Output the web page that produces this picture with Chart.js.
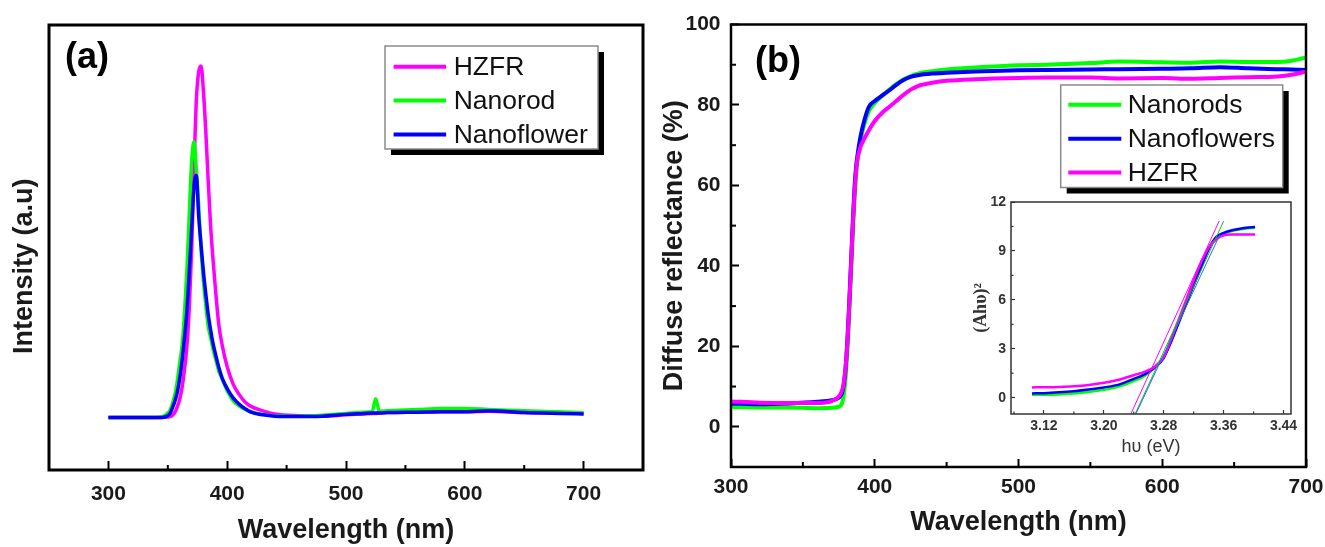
<!DOCTYPE html>
<html><head><meta charset="utf-8">
<script src="https://cdn.jsdelivr.net/npm/chart.js@4.4.1/dist/chart.umd.min.js"></script>
<style>
html,body{margin:0;padding:0;background:#fff;width:1325px;height:547px;overflow:hidden}
canvas{position:absolute}
</style></head><body>
<canvas id="ca" width="660" height="547" style="left:0;top:0;width:660px;height:547px"></canvas>
<canvas id="cb" width="665" height="547" style="left:660px;top:0;width:665px;height:547px"></canvas>
<canvas id="ci" width="360" height="280" style="left:940px;top:190px;width:360px;height:280px"></canvas>
<script>
// ---------- Panel (a): PL spectra ----------
const wavelengthA = [300,320,340,345,350,352,354,356,358,360,362,364,366,368,370,372,374,376,378,380,382,384,386,388,390,393,396,400,405,410,415,420,430,440,460,480,500,515,522,525,528,535,560,580,600,620,650,680,700];
const intensityHZFR = [11.8,11.8,11.8,11.8,11.9,12.0,12.3,13.0,14.2,15.9,18.5,22.5,27.5,36,49,67,83,89.5,90.8,85,76,65,55,47.5,41,32.5,27.8,23.2,19.3,17,15.3,14.3,13.3,12.6,12.2,12.1,12.4,12.6,12.7,12.7,12.8,12.9,13.0,13.1,13.1,13.2,12.9,12.8,12.7];
const intensityNanorod = [11.8,11.8,11.8,11.9,12.8,13.5,15.0,17.0,20,24,28,35,44.5,57,69,73.8,67.5,59.5,49.5,42.5,37,32.3,29.8,27.3,25.2,22.2,20.3,17.8,15.6,14.4,13.6,13.1,12.5,12.2,12.1,12.3,12.7,13.0,13.1,16.0,13.2,13.3,13.6,13.8,13.8,13.6,13.3,13.1,12.8];
const intensityNanoflower = [11.8,11.8,11.8,11.8,12.2,12.8,14.0,15.5,17.5,20.5,24.5,29.5,35.5,44,54,63.5,66.2,57,50.5,44.5,39.5,35,31.5,28.5,26.2,23,20.5,18.3,16.2,14.8,13.8,13.0,12.4,12.1,12.0,12.1,12.5,12.7,12.8,12.8,12.8,12.9,13.0,13.1,13.1,13.3,12.9,12.7,12.6];
const xTicksA = [300,400,500,600,700];
const xMinorA = [350,450,550,650];

// ---------- Panel (b): diffuse reflectance ----------
const wavelengthB = [300,320,340,360,370,375,377,378,379,380,381,382,383,384,385,386,387,388,390,393,396,400,405,410,415,420,425,430,440,450,470,500,520,550,570,600,620,640,660,680,690,700];
const reflNanorods = [5.0,4.8,4.8,4.6,4.7,5.0,5.6,7.0,9.5,13.5,19,26,34,42,50,57,62.5,66.5,71,75.5,78.5,80.5,82.2,83.8,85.2,86.3,87.2,87.8,88.4,88.8,89.3,89.9,90.0,90.4,90.8,90.6,90.5,90.8,90.7,90.7,91.0,91.8];
const reflNanoflowers = [5.8,5.6,5.8,6.2,6.6,7.2,8.2,9.5,12,16,22,29,37,45,53,60,64.5,67.5,72,76.5,79.6,81,82.3,83.6,85,86.2,87,87.4,87.8,88.0,88.3,88.6,88.7,88.8,88.9,89.0,89.1,89.4,89.1,88.9,88.8,88.7];
const reflHZFR = [6.3,6.0,5.9,5.9,6.4,7.5,8.8,10,12.5,16,21,28,36,44,52,58.5,63.5,66.5,69.5,71.8,73.8,76,78,79.5,81,82.5,83.8,84.7,85.5,86,86.4,86.7,86.8,86.8,86.6,86.7,86.5,86.7,86.9,87.1,87.5,88.3];
const xTicksB = [300,400,500,600,700];
const xMinorB = [350,450,550,650];
const yTicksB = [0,20,40,60,80,100];
const yMinorB = [-10,10,30,50,70,90];

// ---------- Inset: Tauc plot ----------
const photonEnergy = [3.104,3.12,3.14,3.16,3.18,3.20,3.22,3.24,3.255,3.268,3.28,3.29,3.30,3.31,3.32,3.33,3.34,3.35,3.36,3.37,3.38,3.39,3.402];
const taucNanorods = [0.18,0.18,0.2,0.26,0.35,0.48,0.68,1.02,1.35,1.85,2.45,3.5,4.65,5.8,6.95,8.1,9.2,9.8,10.05,10.2,10.3,10.38,10.42];
const taucNanoflowers = [0.26,0.28,0.33,0.4,0.5,0.63,0.8,1.15,1.45,1.85,2.45,3.45,4.6,5.75,6.9,8.0,9.1,9.85,10.1,10.25,10.35,10.42,10.46];
const taucHZFR = [0.63,0.64,0.66,0.7,0.78,0.92,1.1,1.38,1.6,1.9,2.5,3.6,4.8,6.0,7.2,8.3,9.2,9.7,9.95,10.0,10.0,10.0,10.0];
const fitEnergyHZFR = [3.236,3.354];
const fitValueHZFR = [-1,10.83];
const fitEnergyNanorods = [3.2418,3.36];
const fitValueNanorods = [-1,10.83];
const fitEnergyNanoflowers = [3.2428,3.355];
const fitValueNanoflowers = [-1,10.0];
const xTicksInset = [3.12,3.20,3.28,3.36,3.44];
const xMinorInset = [3.08,3.16,3.24,3.32,3.40];
const yTicksInset = [0,3,6,9,12];
const yMinorInset = [1.5,4.5,7.5,10.5];

const MAG = '#ff00ff', GRN = '#00ff00', BLU = '#0000ff';
const SANS = '"Liberation Sans", Arial, sans-serif';
Chart.defaults.font.family = SANS;
Chart.defaults.color = '#000';

function pts(xs, ys) { return xs.map((x, i) => ({x: x, y: ys[i]})); }

const decor = {
  id: 'decor',
  afterDraw(chart, _a, o) {
    const ctx = chart.ctx, ca = chart.chartArea, sx = chart.scales.x, sy = chart.scales.y;
    ctx.save();
    ctx.strokeStyle = o.frameColor;
    ctx.lineWidth = o.tickWidth;
    (o.minorX || []).forEach(v => {
      const p = sx.getPixelForValue(v);
      ctx.beginPath(); ctx.moveTo(p, ca.bottom); ctx.lineTo(p, ca.bottom - o.minorLen); ctx.stroke();
    });
    (o.minorY || []).forEach(v => {
      const p = sy.getPixelForValue(v);
      ctx.beginPath(); ctx.moveTo(ca.left, p); ctx.lineTo(ca.left + o.minorLen, p); ctx.stroke();
    });
    ctx.lineWidth = o.frameWidth;
    ctx.strokeRect(ca.left, ca.top, ca.right - ca.left, ca.bottom - ca.top);
    if (o.label) {
      ctx.fillStyle = '#000';
      ctx.font = o.label.font;
      ctx.textBaseline = 'middle'; ctx.textAlign = 'left';
      ctx.fillText(o.label.text, o.label.x, o.label.y);
    }
    if (o.legend) {
      const L = o.legend;
      ctx.fillStyle = '#000';
      ctx.fillRect(L.x + L.shadow, L.y + L.shadow, L.w, L.h);
      ctx.fillStyle = '#fff';
      ctx.fillRect(L.x, L.y, L.w, L.h);
      ctx.strokeStyle = '#8a8a8a'; ctx.lineWidth = 1.5;
      ctx.strokeRect(L.x, L.y, L.w, L.h);
      ctx.font = L.font; ctx.textBaseline = 'middle'; ctx.textAlign = 'left';
      let row = 0;
      chart.data.datasets.forEach(ds => {
        if (!ds.label) return;
        const y = L.rows[row++];
        ctx.strokeStyle = ds.borderColor; ctx.lineWidth = 4; ctx.lineCap = 'butt';
        ctx.beginPath(); ctx.moveTo(L.line[0], y); ctx.lineTo(L.line[1], y); ctx.stroke();
        ctx.fillStyle = '#111';
        ctx.fillText(ds.label, L.textX, y + 1);
      });
    }
    ctx.restore();
  }
};

function fixX(h) { return s => { s.height = h; s.paddingLeft = 0; s.paddingRight = 0; }; }
function fixY(w) { return s => { s.width = w; s.paddingTop = 0; s.paddingBottom = 0; }; }
function setTicks(vals) { return s => { s.ticks = vals.map(v => ({value: v})); }; }

function line(label, xs, ys, color, order, width) {
  return {label: label, data: pts(xs, ys), borderColor: color, backgroundColor: color,
    borderWidth: width, pointRadius: 0, cubicInterpolationMode: 'monotone', order: order, fill: false};
}

// ---------- Chart (a) ----------
new Chart(document.getElementById('ca'), {
  type: 'line',
  data: {datasets: [
    line('HZFR', wavelengthA, intensityHZFR, MAG, 3, 3.5),
    line('Nanorod', wavelengthA, intensityNanorod, GRN, 2, 3.5),
    line('Nanoflower', wavelengthA, intensityNanoflower, BLU, 1, 3.5)
  ]},
  options: {
    responsive: false, animation: false, devicePixelRatio: 1,
    layout: {padding: {left: 0, top: 25, right: 17, bottom: 0}},
    plugins: {
      legend: {display: false}, tooltip: {enabled: false},
      decor: {frameColor: '#000', frameWidth: 3, tickWidth: 2, minorLen: 5, minorX: xMinorA,
        label: {text: '(a)', x: 65, y: 58, font: 'bold 36px ' + SANS},
        legend: {x: 385, y: 46, w: 213, h: 103, shadow: 6, rows: [66.7, 100.5, 134.5], line: [393.6, 446.1], textX: 453.7, font: '26.5px ' + SANS}}
    },
    scales: {
      x: {type: 'linear', min: 250, max: 750, afterFit: fixX(77), afterBuildTicks: setTicks(xTicksA),
        border: {display: false},
        grid: {display: true, drawOnChartArea: false, drawTicks: true, tickLength: -9, tickColor: '#000', tickWidth: 2},
        ticks: {padding: 20.4, color: '#1a1a1a', font: {size: 21, weight: 'bold'}, maxRotation: 0},
        title: {display: true, text: 'Wavelength (nm)', color: '#1a1a1a', font: {size: 27, weight: 'bold'}, padding: {top: 0, bottom: 0}}},
      y: {type: 'linear', min: 0, max: 100, afterFit: fixY(49),
        border: {display: false}, grid: {display: false}, ticks: {display: false},
        title: {display: true, text: 'Intensity (a.u)     ', color: '#1a1a1a', font: {size: 27, weight: 'bold'}, padding: {top: 8.8, bottom: 0}}}
    }
  },
  plugins: [decor]
});

// ---------- Chart (b) ----------
new Chart(document.getElementById('cb'), {
  type: 'line',
  data: {datasets: [
    line('Nanorods', wavelengthB, reflNanorods, GRN, 3, 4),
    line('Nanoflowers', wavelengthB, reflNanoflowers, BLU, 2, 4),
    line('HZFR', wavelengthB, reflHZFR, MAG, 1, 4)
  ]},
  options: {
    responsive: false, animation: false, devicePixelRatio: 1,
    layout: {padding: {left: 0, top: 24.5, right: 19, bottom: 0}},
    plugins: {
      legend: {display: false}, tooltip: {enabled: false},
      decor: {frameColor: '#000', frameWidth: 2.5, tickWidth: 2, minorLen: 5, minorX: xMinorB, minorY: yMinorB,
        label: {text: '(b)', x: 95, y: 62, font: 'bold 36px ' + SANS},
        legend: {x: 400.7, y: 85, w: 222, h: 102.5, shadow: 6, rows: [104.8, 138.8, 172.5], line: [408.3, 461.3], textX: 467.7, font: '26.5px ' + SANS}}
    },
    scales: {
      x: {type: 'linear', min: 300, max: 700, afterFit: fixX(80), afterBuildTicks: setTicks(xTicksB),
        border: {display: false},
        grid: {display: true, drawOnChartArea: false, drawTicks: true, tickLength: -8, tickColor: '#000', tickWidth: 2},
        ticks: {padding: 15.4, color: '#1a1a1a', font: {size: 21, weight: 'bold'}, maxRotation: 0},
        title: {display: true, text: 'Wavelength (nm)', color: '#1a1a1a', font: {size: 27, weight: 'bold'}, padding: {top: 0, bottom: 8}}},
      y: {type: 'linear', min: -10, max: 100, afterFit: fixY(71), afterBuildTicks: setTicks(yTicksB),
        border: {display: false},
        grid: {display: true, drawOnChartArea: false, drawTicks: true, tickLength: -8, tickColor: '#000', tickWidth: 2},
        ticks: {padding: 18.5, color: '#1a1a1a', font: {size: 21, weight: 'bold'}},
        title: {display: true, text: 'Diffuse reflectance (%)', color: '#1a1a1a', font: {size: 27, weight: 'bold'}, padding: {top: -1.2, bottom: 0}}}
    }
  },
  plugins: [decor]
});

// ---------- Inset ----------
new Chart(document.getElementById('ci'), {
  type: 'line',
  data: {datasets: [
    line('', photonEnergy, taucNanorods, GRN, 6, 2.5),
    line('', photonEnergy, taucNanoflowers, BLU, 5, 2.5),
    line('', photonEnergy, taucHZFR, MAG, 4, 2.5),
    line('', fitEnergyHZFR, fitValueHZFR, MAG, 3, 1),
    line('', fitEnergyNanorods, fitValueNanorods, '#00cc00', 2, 1),
    line('', fitEnergyNanoflowers, fitValueNanoflowers, '#3366ff', 1, 1)
  ]},
  options: {
    responsive: false, animation: false, devicePixelRatio: 1,
    layout: {padding: {left: 0, top: 12, right: 9, bottom: 0}},
    plugins: {
      legend: {display: false}, tooltip: {enabled: false},
      decor: {frameColor: '#333', frameWidth: 1.5, tickWidth: 1.2, minorLen: 2.5, minorX: xMinorInset, minorY: yMinorInset}
    },
    scales: {
      x: {type: 'linear', min: 3.076, max: 3.45, afterFit: fixX(56), afterBuildTicks: setTicks(xTicksInset),
        border: {display: false},
        grid: {display: true, drawOnChartArea: false, drawTicks: true, tickLength: -4, tickColor: '#333', tickWidth: 1.2},
        ticks: {padding: 7.8, color: '#333', font: {size: 14, weight: 'bold'}, maxRotation: 0, callback: v => v.toFixed(2)},
        title: {display: true, text: 'hυ (eV)', color: '#333', font: {size: 18}, padding: {top: 0, bottom: 12.5}}},
      y: {type: 'linear', min: -1, max: 12, afterFit: fixY(71), afterBuildTicks: setTicks(yTicksInset),
        border: {display: false},
        grid: {display: true, drawOnChartArea: false, drawTicks: true, tickLength: -4, tickColor: '#333', tickWidth: 1.2},
        ticks: {padding: 9, color: '#333', font: {size: 14, weight: 'bold'}},
        title: {display: true, text: '(Ahυ)²', color: '#333', font: {family: '"Liberation Serif", serif', size: 18, weight: 'bold'}, padding: {top: 31, bottom: 0}}}
    }
  },
  plugins: [decor]
});
</script>
</body></html>
